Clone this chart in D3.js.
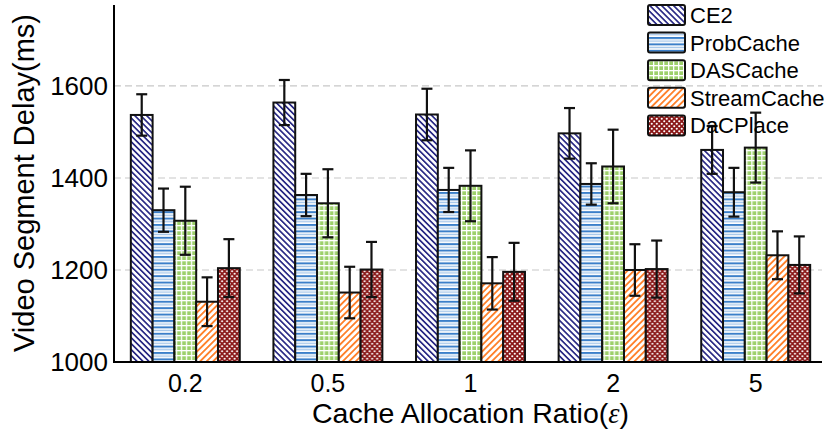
<!DOCTYPE html>
<html><head><meta charset="utf-8">
<script src="https://cdn.jsdelivr.net/npm/d3@7"></script>
<style>body{margin:0;background:#fff}text{font-family:"Liberation Sans",Arial,sans-serif;fill:#000}</style>
</head><body><svg id="c" width="827" height="430"></svg>
<script>
const categories = ["0.2","0.5","1","2","5"];
const seriesNames = ["CE2","ProbCache","DASCache","StreamCache","DaCPlace"];
const CE2 =        [1537,1564,1538,1497,1461];
const ProbCache =  [1330,1363,1374,1387,1369];
const DASCache =   [1307,1345,1383,1425,1466];
const StreamCache= [1131,1151,1171,1200,1232];
const DaCPlace =   [1204,1201,1196,1202,1211];
const errCE2 =   [45,49,56,55,52];
const errProb =  [47,46,48,45,53];
const errDAS =   [74,74,77,80,76];
const errStream =[53,56,57,56,52];
const errDaC =   [63,60,63,62,62];
const yTicks = [1000,1200,1400,1600];
const values = [CE2,ProbCache,DASCache,StreamCache,DaCPlace];
const errors = [errCE2,errProb,errDAS,errStream,errDaC];

const svg = d3.select("#c");
const L=114, R=827, T=5, B=362;
const x0 = d3.scaleBand().domain(categories).range([L,R]).paddingInner(0.236).paddingOuter(0.118);
const x1 = d3.scaleBand().domain(seriesNames).range([0,x0.bandwidth()]);
const y = d3.scaleLinear().domain([1000,1776]).range([B,T]);

const defs = svg.append("defs");
function stripe(id,color,angle,period,w){
  const p=defs.append("pattern").attr("id",id).attr("patternUnits","userSpaceOnUse")
    .attr("width",period).attr("height",period).attr("patternTransform",`rotate(${angle})`);
  p.append("rect").attr("width",period).attr("height",period).attr("fill","#fff");
  p.append("rect").attr("x",0).attr("width",w).attr("height",period).attr("fill",color);
}
stripe("pCE2","#2a2a85",-45,4.2,1.7);
stripe("pStream","#ff7f27",45,4.6,1.8);
{
  const p=defs.append("pattern").attr("id","pProb").attr("patternUnits","userSpaceOnUse").attr("width",6).attr("height",6.4);
  p.append("rect").attr("width",6).attr("height",6.4).attr("fill","#fff");
  p.append("rect").attr("y",0).attr("width",6).attr("height",2).attr("fill","#3b7fc9");
  p.append("rect").attr("y",3.4).attr("width",6).attr("height",1.4).attr("fill","#a8c8ea");
}
{
  const p=defs.append("pattern").attr("id","pDAS").attr("patternUnits","userSpaceOnUse").attr("width",5).attr("height",5);
  p.append("rect").attr("width",5).attr("height",5).attr("fill","#9dd06b");
  p.append("rect").attr("width",1.3).attr("height",5).attr("fill","#fff");
  p.append("rect").attr("width",5).attr("height",1.3).attr("fill","#fff");
}
{
  const p=defs.append("pattern").attr("id","pDaC").attr("patternUnits","userSpaceOnUse").attr("width",5).attr("height",5);
  p.append("rect").attr("width",5).attr("height",5).attr("fill","#8a1818");
  p.append("circle").attr("cx",1.25).attr("cy",1.25).attr("r",1.05).attr("fill","#fff");
  p.append("circle").attr("cx",3.75).attr("cy",3.75).attr("r",1.05).attr("fill","#fff");
}
const fills = ["url(#pCE2)","url(#pProb)","url(#pDAS)","url(#pStream)","url(#pDaC)"];

// gridlines
svg.append("g").selectAll("line").data(yTicks.filter(t=>t>1000)).join("line")
  .attr("x1",L).attr("x2",822).attr("y1",d=>y(d)).attr("y2",d=>y(d))
  .attr("stroke","#c8c8c8").attr("stroke-width",1.2).attr("stroke-dasharray","7,4");

// bars
const groups = svg.append("g").selectAll("g").data(categories).join("g")
  .attr("transform",d=>`translate(${x0(d)},0)`);
groups.each(function(cat,ci){
  const g=d3.select(this);
  seriesNames.forEach((s,si)=>{
    const v=values[si][ci];
    g.append("rect").attr("x",x1(s)).attr("width",x1.bandwidth()).attr("y",y(v)).attr("height",y(1000)-y(v))
      .attr("fill",fills[si]).attr("stroke","#111").attr("stroke-width",2);
  });
  seriesNames.forEach((s,si)=>{
    const v=values[si][ci], e=errors[si][ci];
    const cx=x1(s)+x1.bandwidth()/2;
    const eg=g.append("g").attr("stroke","#111").attr("stroke-width",2.2);
    eg.append("line").attr("x1",cx).attr("x2",cx).attr("y1",y(v+e)).attr("y2",y(v-e));
    eg.append("line").attr("x1",cx-5.5).attr("x2",cx+5.5).attr("y1",y(v+e)).attr("y2",y(v+e));
    eg.append("line").attr("x1",cx-5.5).attr("x2",cx+5.5).attr("y1",y(v-e)).attr("y2",y(v-e));
  });
});

// axes
svg.append("line").attr("x1",L).attr("x2",L).attr("y1",T).attr("y2",B+1).attr("stroke","#000").attr("stroke-width",2);
svg.append("line").attr("x1",L-1).attr("x2",822).attr("y1",B).attr("y2",B).attr("stroke","#000").attr("stroke-width",2);

const yAxis = d3.axisLeft(y).tickValues(yTicks).tickFormat(d3.format("d")).tickSize(0).tickPadding(6);
const ya = svg.append("g").attr("transform",`translate(${L},0)`).call(yAxis);
ya.select(".domain").remove();
ya.selectAll("text").style("font-size","26px").attr("font-family","Liberation Sans, Arial, sans-serif");

const xAxis = d3.axisBottom(x0).tickSize(0).tickPadding(12);
const xa = svg.append("g").attr("transform",`translate(0,${B})`).call(xAxis);
xa.select(".domain").remove();
xa.selectAll("text").style("font-size","25px").attr("font-family","Liberation Sans, Arial, sans-serif");

const xt = svg.append("text").attr("x",(L+R)/2).attr("y",423).attr("text-anchor","middle").style("font-size","28.5px");
xt.append("tspan").text("Cache Allocation Ratio(");
xt.append("tspan").style("font-family","Liberation Serif, serif").style("font-style","italic").text("ε");
xt.append("tspan").text(")");
svg.append("text").attr("transform","translate(34,183) rotate(-90)").attr("text-anchor","middle").style("font-size","29px")
  .text("Video Segment Delay(ms)");

// legend
const lg = svg.append("g").attr("transform","translate(648,5)");
seriesNames.forEach((s,i)=>{
  const gy=i*27.6;
  lg.append("rect").attr("x",0).attr("y",gy).attr("width",37).attr("height",20).attr("rx",2)
    .attr("fill",fills[i]).attr("stroke","#111").attr("stroke-width",2);
  lg.append("text").attr("x",42).attr("y",gy+18).style("font-size","22px").text(s);
});
</script></body></html>
